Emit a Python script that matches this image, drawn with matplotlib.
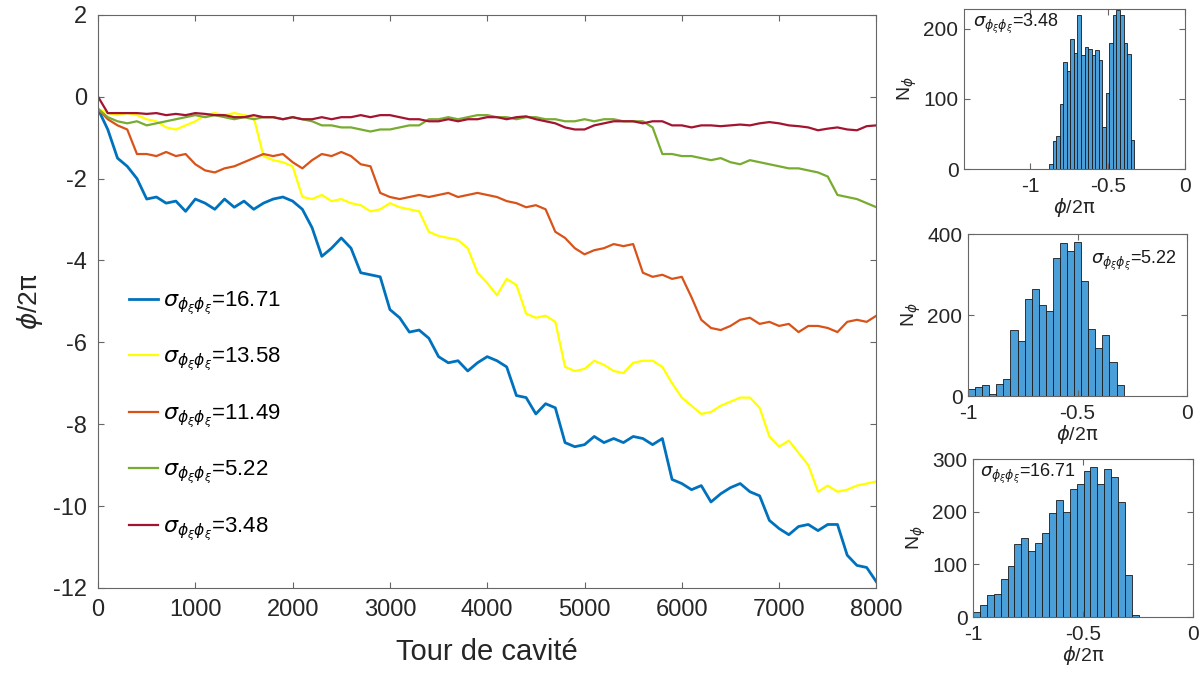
import numpy as np
import matplotlib
matplotlib.use("Agg")
import matplotlib.pyplot as plt

plt.rcParams['font.family'] = ['Liberation Sans', 'DejaVu Sans']
plt.rcParams['axes.unicode_minus'] = False
plt.rcParams['mathtext.fontset'] = 'dejavusans'

# ====== DATA ================================
tours = np.arange(0, 8001, 100)

phase_1671 = [-0.3, -0.8, -1.5, -1.7, -2.0, -2.5, -2.45, -2.6, -2.55, -2.8,
              -2.5, -2.6, -2.75, -2.5, -2.7, -2.55, -2.75, -2.6, -2.5, -2.45,
              -2.55, -2.75, -3.2, -3.9, -3.7, -3.45, -3.7, -4.3, -4.35, -4.4,
              -5.2, -5.4, -5.75, -5.7, -5.9, -6.35, -6.5, -6.45, -6.7, -6.5,
              -6.35, -6.45, -6.6, -7.3, -7.35, -7.75, -7.5, -7.6, -8.45, -8.55,
              -8.5, -8.3, -8.45, -8.35, -8.45, -8.3, -8.35, -8.5, -8.35, -9.35,
              -9.45, -9.6, -9.5, -9.9, -9.7, -9.55, -9.45, -9.65, -9.75, -10.35,
              -10.55, -10.7, -10.5, -10.45, -10.6, -10.45, -10.45, -11.2, -11.45, -11.5,
              -11.85]

phase_1358 = [-0.3, -0.4, -0.45, -0.4, -0.45, -0.55, -0.6, -0.75, -0.8, -0.7,
              -0.6, -0.45, -0.4, -0.45, -0.4, -0.45, -0.5, -1.45, -1.55, -1.6,
              -1.7, -2.45, -2.5, -2.4, -2.55, -2.5, -2.6, -2.65, -2.8, -2.75,
              -2.6, -2.7, -2.75, -2.8, -3.3, -3.4, -3.45, -3.5, -3.7, -4.3,
              -4.55, -4.85, -4.45, -4.6, -5.3, -5.4, -5.35, -5.5, -6.6, -6.7,
              -6.65, -6.45, -6.55, -6.7, -6.75, -6.5, -6.45, -6.45, -6.6, -7.0,
              -7.35, -7.55, -7.75, -7.7, -7.55, -7.45, -7.35, -7.35, -7.6, -8.3,
              -8.55, -8.4, -8.7, -9.0, -9.65, -9.5, -9.65, -9.6, -9.5, -9.45,
              -9.4]

phase_1149 = [-0.3, -0.55, -0.7, -0.8, -1.4, -1.4, -1.45, -1.35, -1.45, -1.4,
              -1.65, -1.8, -1.85, -1.75, -1.7, -1.6, -1.5, -1.4, -1.45, -1.4,
              -1.6, -1.75, -1.55, -1.4, -1.45, -1.35, -1.45, -1.65, -1.7, -2.35,
              -2.45, -2.5, -2.45, -2.4, -2.45, -2.4, -2.35, -2.45, -2.4, -2.35,
              -2.4, -2.45, -2.55, -2.6, -2.7, -2.65, -2.75, -3.3, -3.45, -3.7,
              -3.85, -3.75, -3.7, -3.6, -3.65, -3.6, -4.3, -4.4, -4.35, -4.45,
              -4.4, -4.9, -5.45, -5.65, -5.7, -5.6, -5.45, -5.4, -5.55, -5.5,
              -5.6, -5.55, -5.75, -5.6, -5.6, -5.65, -5.75, -5.5, -5.45, -5.5,
              -5.35]

phase_522 = [-0.3, -0.5, -0.6, -0.65, -0.6, -0.7, -0.65, -0.6, -0.55, -0.5,
             -0.45, -0.5, -0.45, -0.5, -0.55, -0.5, -0.55, -0.5, -0.5, -0.55,
             -0.5, -0.55, -0.6, -0.7, -0.7, -0.75, -0.75, -0.8, -0.85, -0.8,
             -0.8, -0.75, -0.7, -0.7, -0.55, -0.55, -0.5, -0.55, -0.5, -0.45,
             -0.45, -0.5, -0.5, -0.55, -0.5, -0.5, -0.55, -0.55, -0.6, -0.6,
             -0.55, -0.6, -0.55, -0.55, -0.6, -0.6, -0.6, -0.75, -1.4, -1.4,
             -1.45, -1.45, -1.5, -1.55, -1.5, -1.6, -1.65, -1.55, -1.6, -1.65,
             -1.7, -1.75, -1.75, -1.8, -1.85, -1.95, -2.4, -2.45, -2.5, -2.6,
             -2.7]

phase_348 = [0.0, -0.4, -0.4, -0.4, -0.4, -0.42, -0.4, -0.45, -0.42, -0.45,
             -0.4, -0.42, -0.45, -0.45, -0.5, -0.5, -0.45, -0.5, -0.5, -0.55,
             -0.5, -0.55, -0.55, -0.5, -0.55, -0.5, -0.5, -0.45, -0.5, -0.45,
             -0.45, -0.5, -0.55, -0.55, -0.6, -0.6, -0.55, -0.6, -0.55, -0.55,
             -0.5, -0.5, -0.55, -0.5, -0.48, -0.55, -0.6, -0.65, -0.75, -0.8,
             -0.8, -0.7, -0.65, -0.6, -0.6, -0.6, -0.65, -0.6, -0.6, -0.7,
             -0.7, -0.75, -0.7, -0.7, -0.72, -0.7, -0.68, -0.7, -0.65, -0.62,
             -0.65, -0.7, -0.72, -0.75, -0.82, -0.78, -0.75, -0.8, -0.82, -0.72,
             -0.7]

series_labels = ['16.71', '13.58', '11.49', '5.22', '3.48']
series_colors = ['#0072BD', '#FFFF00', '#D95319', '#77AC30', '#A2142F']

# histogram counts
hist_348_counts = [7, 40, 47, 92, 153, 140, 185, 166, 220, 163, 174, 171,
                   163, 170, 156, 60, 108, 179, 219, 227, 219, 179, 164, 42]
hist_348_left, hist_348_width = -0.88, 0.023

hist_522_counts = [18, 22, 27, 4, 29, 43, 164, 135, 240, 265, 224, 211,
                   342, 379, 358, 381, 283, 166, 118, 151, 84, 26, 1]
hist_522_left, hist_522_width = -1.0, 0.0323

hist_1671_counts = [9, 23, 42, 44, 73, 96, 139, 150, 125, 141, 160, 197,
                    222, 200, 243, 252, 278, 284, 253, 281, 266, 218, 80, 4]
hist_1671_left, hist_1671_width = -1.0, 0.0314

# ====== PLOTTING =======
SPINE = '#666666'
TXT = '#262626'


def style_axes(ax, size, xpad, ypad):
    for s in ax.spines.values():
        s.set_color(SPINE)
        s.set_linewidth(0.8)
    ax.tick_params(direction='in', top=True, right=True, length=4,
                   color=SPINE, labelsize=size, labelcolor=TXT)
    ax.tick_params(axis='x', pad=xpad)
    ax.tick_params(axis='y', pad=ypad)


def sigma_label(value):
    return r'$\sigma_{\phi_\xi\phi_\xi}$' + '=' + value


fig = plt.figure(figsize=(12.03, 6.75), dpi=100)

ax = fig.add_axes([0.0815, 0.129, 0.647, 0.849])
all_series = [phase_1671, phase_1358, phase_1149, phase_522, phase_348]
for vals, lab, col in zip(all_series, series_labels, series_colors):
    lw = 2.0 if lab == '16.71' else 1.6
    ax.plot(tours, vals, color=col, lw=lw, label=sigma_label(lab))
ax.set_xlim(0, 8000)
ax.set_ylim(-12, 2)
ax.set_xticks(range(0, 8001, 1000))
ax.set_yticks(range(-12, 3, 2))
style_axes(ax, 17, 8, 8)
ax.set_xlabel('Tour de cavité', fontsize=21, color=TXT, labelpad=12)
ax.set_ylabel(r'$\phi$/2$\mathrm{\pi}$', fontsize=19, color=TXT, labelpad=6)
ax.legend(loc='upper left', bbox_to_anchor=(0.025, 0.54), frameon=False,
          fontsize=16, handlelength=1.3, handletextpad=0.25,
          labelspacing=1.32, borderpad=0)

hist_specs = [
    ([0.8013, 0.7496, 0.1837, 0.237], hist_348_counts, hist_348_left, hist_348_width,
     (-1.43, 0), 228, [0, 100, 200], '3.48', (0.04, 0.98)),
    ([0.8047, 0.4133, 0.1820, 0.240], hist_522_counts, hist_522_left, hist_522_width,
     (-1.0, 0), 400, [0, 200, 400], '5.22', (0.56, 0.91)),
    ([0.8088, 0.0859, 0.1829, 0.234], hist_1671_counts, hist_1671_left, hist_1671_width,
     (-1.0, 0), 300, [0, 100, 200, 300], '16.71', (0.03, 0.98)),
]

for rect, counts, left, width, xlim, ytop, yticks, lab, tpos in hist_specs:
    hax = fig.add_axes(rect)
    lefts = [left + i * width for i in range(len(counts))]
    hax.bar(lefts, counts, width=width, align='edge', color='#4a9fd8',
            edgecolor='#1a1a1a', linewidth=0.6)
    hax.set_xlim(*xlim)
    hax.set_ylim(0, ytop)
    hax.set_xticks([-1, -0.5, 0])
    hax.set_xticklabels(['-1', '-0.5', '0'])
    hax.set_yticks(yticks)
    style_axes(hax, 15, 6, 4)
    hax.set_xlabel(r'$\phi$/2$\mathrm{\pi}$', fontsize=14, color=TXT, labelpad=0)
    hax.set_ylabel(r'N$_\phi$', fontsize=14, color=TXT, labelpad=3)
    hax.text(tpos[0], tpos[1], sigma_label(lab), transform=hax.transAxes,
             ha='left', va='top', fontsize=13, color='#1a1a1a')

fig.savefig('out.png', dpi=100)
